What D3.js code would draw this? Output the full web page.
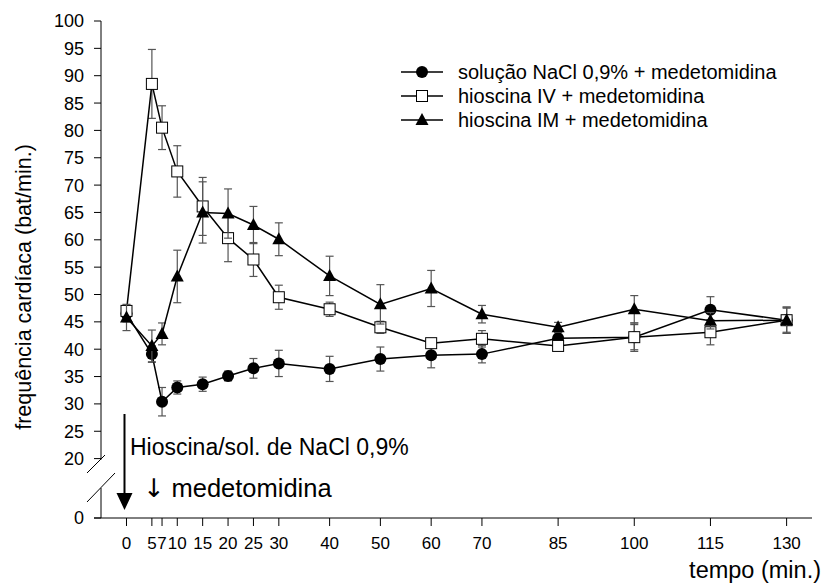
<!DOCTYPE html>
<html>
<head>
<meta charset="utf-8">
<script src="https://cdn.jsdelivr.net/npm/d3@7"></script>
<style>
  body { margin: 0; background: #fff; }
  text { font-family: Arial, "Liberation Sans", sans-serif; fill: #000; }
</style>
</head>
<body>
<div id="chart"></div>
<script>
var W = 822, H = 584;

// tempo (min.)
var times = [0, 5, 7, 10, 15, 20, 25, 30, 40, 50, 60, 70, 85, 100, 115, 130];
var xTicks = [0, 5, 7, 10, 15, 20, 25, 30, 40, 50, 60, 70, 85, 100, 115, 130];
var yTicks = [0, 20, 25, 30, 35, 40, 45, 50, 55, 60, 65, 70, 75, 80, 85, 90, 95, 100];

var seriesNames = ["solução NaCl 0,9% + medetomidina", "hioscina IV + medetomidina", "hioscina IM + medetomidina"];

var naclMean = [46.5, 39.1, 30.4, 33.0, 33.6, 35.1, 36.5, 37.4, 36.4, 38.2, 38.9, 39.1, 42.0, 42.2, 47.2, 45.3];
var naclErr  = [1.5, 1.5, 2.6, 1.2, 1.3, 0.9, 1.8, 2.4, 2.3, 2.2, 2.3, 1.6, 1.0, 2.3, 2.4, 2.2];

var ivMean = [47.0, 88.5, 80.5, 72.5, 66.1, 60.3, 56.4, 49.5, 47.3, 44.0, 41.1, 41.9, 40.6, 42.2, 43.1, 45.3];
var ivErr  = [1.0, 6.3, 4.0, 4.7, 5.3, 4.3, 3.1, 2.2, 1.3, 1.1, 0.6, 1.5, 0.8, 2.6, 2.3, 2.4];

var imMean = [45.8, 40.6, 42.8, 53.3, 65.0, 64.8, 62.7, 60.1, 53.4, 48.2, 51.1, 46.4, 44.0, 47.3, 45.2, 45.3];
var imErr  = [2.4, 2.9, 2.0, 4.8, 5.6, 4.5, 3.4, 3.0, 3.6, 3.6, 3.3, 1.6, 0.9, 2.5, 1.5, 2.4];

var svg = d3.select("#chart").append("svg")
    .attr("width", W)
    .attr("height", H);

var x = d3.scaleLinear().domain([-6.4, 135]).range([94, 812]);
// broken axis: 0 sits below the break, 20..100 above it
var y = d3.scaleLinear().domain([0, 20, 100]).range([518, 458.6, 21]);

var axisX = 101, baseY = 518;

// x axis
svg.append("line")
    .attr("x1", x.range()[0]).attr("x2", x.range()[1])
    .attr("y1", baseY).attr("y2", baseY)
    .attr("stroke", "#000").attr("stroke-width", 1);

var xt = svg.append("g").selectAll("g")
    .data(xTicks)
    .enter().append("g")
    .attr("transform", function(d) { return "translate(" + x(d) + ",0)"; });
xt.append("line")
    .attr("y1", baseY).attr("y2", baseY + 8)
    .attr("stroke", "#000");
xt.append("text")
    .attr("y", baseY + 31)
    .attr("text-anchor", "middle")
    .style("font-size", "17px")
    .text(function(d) { return d; });

// y axis (two pieces around the break)
svg.append("line")
    .attr("x1", axisX).attr("x2", axisX)
    .attr("y1", y(100)).attr("y2", y(20) + 1)
    .attr("stroke", "#000");
svg.append("line")
    .attr("x1", axisX).attr("x2", axisX)
    .attr("y1", 488).attr("y2", baseY)
    .attr("stroke", "#000");
// break marks
svg.append("line")
    .attr("x1", 87).attr("y1", 473).attr("x2", 105).attr("y2", 455)
    .attr("stroke", "#000");
svg.append("line")
    .attr("x1", 87).attr("y1", 502).attr("x2", 115).attr("y2", 473)
    .attr("stroke", "#000");

var yt = svg.append("g").selectAll("g")
    .data(yTicks)
    .enter().append("g")
    .attr("transform", function(d) { return "translate(0," + y(d) + ")"; });
yt.append("line")
    .attr("x1", axisX - 7).attr("x2", axisX)
    .attr("stroke", "#000");
yt.append("text")
    .attr("x", 84)
    .attr("dy", "0.36em")
    .attr("text-anchor", "end")
    .style("font-size", "18px")
    .text(function(d) { return d; });

// axis titles
svg.append("text")
    .attr("transform", "translate(31,287) rotate(-90)")
    .attr("text-anchor", "middle")
    .style("font-size", "21.5px")
    .text("frequência cardíaca (bat/min.)");
svg.append("text")
    .attr("x", 821).attr("y", 578)
    .attr("text-anchor", "end")
    .style("font-size", "23.5px")
    .text("tempo (min.)");

// injection arrow + notes
var arrowX = x(0) - 2;
svg.append("line")
    .attr("x1", arrowX).attr("x2", arrowX)
    .attr("y1", 414).attr("y2", 495)
    .attr("stroke", "#000").attr("stroke-width", 2);
svg.append("path")
    .attr("d", "M" + (arrowX - 8) + ",493L" + (arrowX + 8) + ",493L" + arrowX + ",510Z")
    .attr("fill", "#000");
svg.append("text")
    .attr("x", 130).attr("y", 455)
    .style("font-size", "23px")
    .text("Hioscina/sol. de NaCl 0,9%");
var med = svg.append("text")
    .attr("x", 143).attr("y", 497)
    .style("font-size", "25.5px");
med.append("tspan")
    .style("font-family", "'DejaVu Sans', sans-serif")
    .attr("fill", "#000")
    .text("\u2193");
med.append("tspan")
    .text(" medetomidina");

// series
var series = [
    { name: seriesNames[0], mean: naclMean, err: naclErr, shape: "circle" },
    { name: seriesNames[1], mean: ivMean, err: ivErr, shape: "square" },
    { name: seriesNames[2], mean: imMean, err: imErr, shape: "triangle" }
];

function drawMarker(g, shape) {
    if (shape == "circle") {
        g.append("circle").attr("r", 6).attr("fill", "#000");
    } else if (shape == "square") {
        g.append("rect").attr("x", -5.5).attr("y", -5.5)
            .attr("width", 11).attr("height", 11)
            .attr("fill", "#fff").attr("stroke", "#000").attr("stroke-width", 1);
    } else {
        g.append("path").attr("d", "M0,-7L6.5,5L-6.5,5Z").attr("fill", "#000");
    }
}

var line = d3.line()
    .x(function(d) { return x(d.t); })
    .y(function(d) { return y(d.v); });

series.forEach(function(s) {
    var pts = times.map(function(t, i) { return { t: t, v: s.mean[i], e: s.err[i] }; });
    var g = svg.append("g").attr("class", "series");

    var eb = g.append("g").selectAll("g")
        .data(pts)
        .enter().append("g")
        .attr("stroke", "#555").attr("stroke-width", 1.2);
    eb.append("line")
        .attr("x1", function(d) { return x(d.t); }).attr("x2", function(d) { return x(d.t); })
        .attr("y1", function(d) { return y(d.v + d.e); }).attr("y2", function(d) { return y(d.v - d.e); });
    eb.append("line")
        .attr("x1", function(d) { return x(d.t) - 4; }).attr("x2", function(d) { return x(d.t) + 4; })
        .attr("y1", function(d) { return y(d.v + d.e); }).attr("y2", function(d) { return y(d.v + d.e); });
    eb.append("line")
        .attr("x1", function(d) { return x(d.t) - 4; }).attr("x2", function(d) { return x(d.t) + 4; })
        .attr("y1", function(d) { return y(d.v - d.e); }).attr("y2", function(d) { return y(d.v - d.e); });

    g.append("path")
        .datum(pts)
        .attr("d", line)
        .attr("fill", "none")
        .attr("stroke", "#000")
        .attr("stroke-width", 1.5);

    g.selectAll("g.mk")
        .data(pts)
        .enter().append("g")
        .attr("class", "mk")
        .attr("transform", function(d) { return "translate(" + x(d.t) + "," + y(d.v) + ")"; })
        .each(function() { drawMarker(d3.select(this), s.shape); });
});

// legend
var legend = svg.append("g").attr("transform", "translate(401,72)");
var li = legend.selectAll("g")
    .data(series)
    .enter().append("g")
    .attr("transform", function(d, i) { return "translate(0," + (i * 24) + ")"; });
li.append("line")
    .attr("x1", 0).attr("x2", 42)
    .attr("stroke", "#000").attr("stroke-width", 1.5);
li.each(function(d) {
    var m = d3.select(this).append("g").attr("transform", "translate(21,0)");
    drawMarker(m, d.shape);
});
li.append("text")
    .attr("x", 57)
    .attr("dy", "0.35em")
    .style("font-size", "20px")
    .text(function(d) { return d.name; });
</script>
</body>
</html>
